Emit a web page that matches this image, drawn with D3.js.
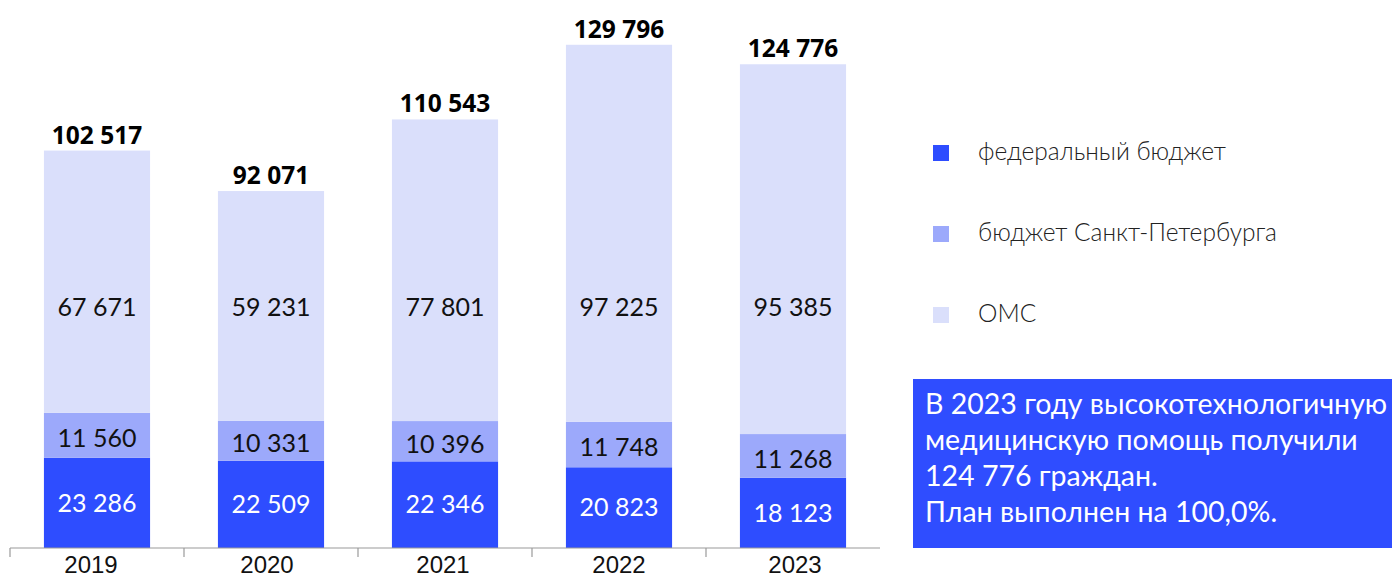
<!DOCTYPE html>
<html lang="ru">
<head>
    <meta charset="UTF-8">
    <title>ВМП 2019-2023</title>
    <script src="https://d3js.org/d3.v7.min.js"></script>
    <style>
        body { margin: 0; padding: 0; background: #fff; overflow: hidden; }
        svg { display: block; }
        .seg-label { font-family: Lato, "Open Sans", sans-serif; font-size: 25px; text-anchor: middle; }
        .total { font-family: "Open Sans", sans-serif; font-weight: 700; font-size: 24.5px; text-anchor: middle; fill: #000; }
        .year { font-family: "Liberation Sans", Arial, sans-serif; font-size: 24px; fill: #111; }
        .legend text { font-family: Lato, sans-serif; font-weight: 300; font-size: 24.5px; fill: #222; }
        .note { font-family: Lato, sans-serif; font-size: 28.5px; fill: #fff; }
    </style>
</head>
<body>
<svg width="1392" height="575"></svg>
<script>
    const years = [2019, 2020, 2021, 2022, 2023];
    const federal = [23286, 22509, 22346, 20823, 18123];
    const spb = [11560, 10331, 10396, 11748, 11268];
    const oms = [67671, 59231, 77801, 97225, 95385];
    const seriesNames = ["федеральный бюджет", "бюджет Санкт-Петербурга", "ОМС"];
    const seriesColors = ["#2e4dff", "#9ca9fb", "#dadffb"];
    const noteLines = [
        "В 2023 году высокотехнологичную",
        "медицинскую помощь получили",
        "124 776 граждан.",
        "План выполнен на 100,0%."
    ];

    const svg = d3.select("svg");
    const baseY = 548;

    const rows = years.map((yr, i) => ({ year: yr, f: federal[i], s: spb[i], o: oms[i] }));
    const keys = ["f", "s", "o"];
    const stacked = d3.stack().keys(keys)(rows);

    const x = d3.scaleBand().domain(years).range([10, 880]).paddingInner(0.39).paddingOuter(0.195);
    const xCat = d3.scaleBand().domain(years).range([10, 880]).padding(0);
    const xLabel = d3.scalePoint().domain(years).range([91, 795]);
    const y = d3.scaleLinear().domain([0, 130000]).range([baseY, 44]);

    const fmt = v => d3.format(",")(v).replace(/,/g, " ");

    // bars
    stacked.forEach((layer, li) => {
        svg.append("g").selectAll("rect")
            .data(layer)
            .join("rect")
            .attr("x", d => x(d.data.year))
            .attr("width", x.bandwidth())
            .attr("y", d => y(d[1]))
            .attr("height", d => y(d[0]) - y(d[1]))
            .attr("fill", seriesColors[li]);
    });

    // axis
    const axis = svg.append("g").attr("transform", `translate(0,${baseY})`);
    axis.append("line").attr("x1", 10).attr("x2", 880).attr("stroke", "#9a9a9a").attr("stroke-width", 1.2);
    axis.selectAll(".tk").data(years).join("line")
        .attr("x1", d => xCat(d)).attr("x2", d => xCat(d))
        .attr("y1", 0).attr("y2", 9)
        .attr("stroke", "#9a9a9a").attr("stroke-width", 1.2);
    axis.selectAll(".year").data(years).join("text")
        .attr("class", "year")
        .attr("x", d => xLabel(d))
        .attr("y", 25)
        .attr("text-anchor", "middle")
        .text(d => d);

    // segment labels
    const cx = d => x(d.data.year) + x.bandwidth() / 2;
    svg.append("g").selectAll("text").data(stacked[0]).join("text")
        .attr("class", "seg-label").attr("fill", "#fff")
        .attr("x", cx).attr("y", d => (y(d[0]) + y(d[1])) / 2).attr("dy", "0.35em")
        .text(d => fmt(d.data.f));
    svg.append("g").selectAll("text").data(stacked[1]).join("text")
        .attr("class", "seg-label").attr("fill", "#111")
        .attr("x", cx).attr("y", d => (y(d[0]) + y(d[1])) / 2 + 3).attr("dy", "0.35em")
        .text(d => fmt(d.data.s));
    const omsLabelLevel = 62000;
    svg.append("g").selectAll("text").data(stacked[2]).join("text")
        .attr("class", "seg-label").attr("fill", "#111")
        .attr("x", cx).attr("y", y(omsLabelLevel)).attr("dy", "0.35em")
        .text(d => fmt(d.data.o));

    // totals
    svg.append("g").selectAll("text").data(stacked[2]).join("text")
        .attr("class", "total")
        .attr("x", cx).attr("y", d => y(d[1]) - 7)
        .text(d => fmt(d[1]));

    // legend
    const legend = svg.append("g").attr("class", "legend");
    seriesNames.forEach((name, i) => {
        const ly = 160 + i * 81;
        legend.append("rect").attr("x", 933).attr("y", ly - 15).attr("width", 16).attr("height", 16)
            .attr("fill", seriesColors[i]);
        legend.append("text").attr("x", 978).attr("y", ly).text(name);
    });

    // note box
    svg.append("rect").attr("x", 913).attr("y", 379).attr("width", 479).attr("height", 169).attr("fill", "#2f4dff");
    svg.append("g").selectAll("text").data(noteLines).join("text")
        .attr("class", "note")
        .attr("x", 925)
        .attr("y", (d, i) => 414 + i * 36)
        .text(d => d);
</script>
</body>
</html>
